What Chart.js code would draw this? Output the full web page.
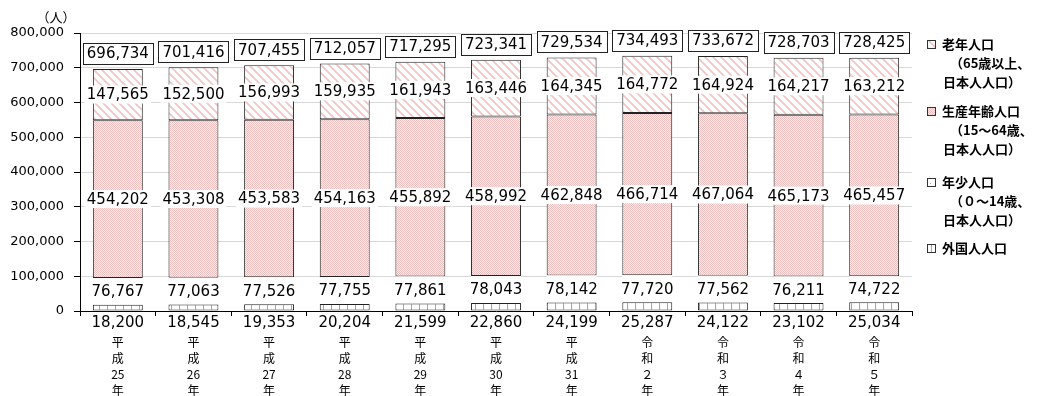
<!DOCTYPE html>
<html>
<head>
<meta charset="utf-8">
<script src="https://cdn.jsdelivr.net/npm/chart.js@4.4.1/dist/chart.umd.min.js"></script>
<style>
  html, body { margin: 0; padding: 0; background: #fff; }
  #wrap { position: relative; width: 1042px; height: 396px; }
</style>
</head>
<body>
<div id="wrap"><canvas id="popChart" width="1042" height="396"></canvas></div>
<script>
const eras = ["平成", "平成", "平成", "平成", "平成", "平成", "平成", "令和", "令和", "令和", "令和"];
const eraYears = ["25", "26", "27", "28", "29", "30", "31", "２", "３", "４", "５"];

// stacked from the bottom up
const foreign = [18200, 18545, 19353, 20204, 21599, 22860, 24199, 25287, 24122, 23102, 25034];
const young = [76767, 77063, 77526, 77755, 77861, 78043, 78142, 77720, 77562, 76211, 74722];
const working = [454202, 453308, 453583, 454163, 455892, 458992, 462848, 466714, 467064, 465173, 465457];
const elderly = [147565, 152500, 156993, 159935, 161943, 163446, 164345, 164772, 164924, 164217, 163212];

const yTicks = [0, 100000, 200000, 300000, 400000, 500000, 600000, 700000, 800000];

const legendItems = [
  ["老年人口", "（65歳以上、", "日本人人口）"],
  ["生産年齢人口", "（15～64歳、", "日本人人口）"],
  ["年少人口", "（０～14歳、", "日本人人口）"],
  ["外国人人口"],
];

const NUM_FONT = '"DejaVu Sans", Verdana, sans-serif';
const JP_FONT = '"Noto Sans CJK JP", sans-serif';

const fmt = (v) => v.toLocaleString("en-US");

// x labels: each character on its own line, year digits kept together
const labels = eras.map((e, i) => [e[0], e[1], eraYears[i], "年"]);

function makePattern(w, h, paint) {
  const c = document.createElement("canvas");
  c.width = w;
  c.height = h;
  const g = c.getContext("2d");
  paint(g);
  return g.createPattern(c, "repeat");
}

const hatchElderly = makePattern(8, 8, (g) => {
  g.fillStyle = "#fff";
  g.fillRect(0, 0, 8, 8);
  g.strokeStyle = "#f3c2c2";
  g.lineWidth = 1.6;
  g.beginPath();
  g.moveTo(-2, -2); g.lineTo(10, 10);
  g.moveTo(-6, 2); g.lineTo(2, 10);
  g.moveTo(6, -2); g.lineTo(10, 2);
  g.stroke();
});

const dotsWorking = makePattern(2, 2, (g) => {
  g.fillStyle = "#fcecec";
  g.fillRect(0, 0, 2, 2);
  g.fillStyle = "#eec0c0";
  g.fillRect(0, 0, 1, 1);
  g.fillRect(1, 1, 1, 1);
});

const stripesForeign = makePattern(8, 4, (g) => {
  g.fillStyle = "#fff";
  g.fillRect(0, 0, 8, 4);
  g.fillStyle = "#e58888";
  g.fillRect(3, 0, 1, 4);
});

const segLabels = {
  id: "segLabels",
  afterDatasetsDraw(chart) {
    const ctx = chart.ctx;
    const area = chart.chartArea;
    ctx.save();
    ctx.font = "15px " + NUM_FONT;
    ctx.textAlign = "center";
    ctx.textBaseline = "middle";

    chart.data.datasets.forEach((ds, i) => {
      chart.getDatasetMeta(i).data.forEach((bar, j) => {
        const txt = fmt(ds.data[j]);
        if (i === 0) {
          ctx.fillStyle = "#000";
          ctx.fillText(txt, bar.x, area.bottom + 12);
          return;
        }
        const y = (bar.y + bar.base) / 2;
        const w = ctx.measureText(txt).width + 4;
        ctx.fillStyle = "#fff";
        ctx.fillRect(bar.x - w / 2, y - 9, w, 18);
        ctx.fillStyle = "#000";
        ctx.fillText(txt, bar.x, y + 1);
      });
    });

    // totals in boxes above each bar
    const topMeta = chart.getDatasetMeta(chart.data.datasets.length - 1);
    topMeta.data.forEach((bar, j) => {
      const total = chart.data.datasets.reduce((s, ds) => s + ds.data[j], 0);
      const txt = fmt(total);
      const w = ctx.measureText(txt).width + 8;
      const h = 21;
      const cy = bar.y - 5 - h / 2;
      ctx.fillStyle = "#fff";
      ctx.fillRect(bar.x - w / 2, cy - h / 2, w, h);
      ctx.strokeStyle = "#222";
      ctx.lineWidth = 1;
      ctx.strokeRect(Math.round(bar.x - w / 2) + 0.5, Math.round(cy - h / 2) + 0.5, Math.round(w), h);
      ctx.fillStyle = "#000";
      ctx.fillText(txt, bar.x, cy + 1);
    });
    ctx.restore();
  },
  afterDraw(chart) {
    const ctx = chart.ctx;
    const area = chart.chartArea;
    ctx.save();

    // unit
    ctx.font = "13px " + JP_FONT;
    ctx.fillStyle = "#000";
    ctx.textAlign = "center";
    ctx.textBaseline = "middle";
    ctx.fillText("（人）", 56, 17);

    // legend
    const x0 = area.right + 15;
    const rowY = [44, 111, 182, 248];
    const swatch = [hatchElderly, dotsWorking, "#fff", stripesForeign];
    ctx.textAlign = "left";
    ctx.font = "bold 13px " + JP_FONT;
    legendItems.forEach((lines, k) => {
      const y = rowY[k];
      ctx.fillStyle = swatch[k];
      ctx.fillRect(x0, y - 4, 8, 8);
      ctx.strokeStyle = "#333";
      ctx.lineWidth = 1;
      ctx.strokeRect(x0 + 0.5, y - 4 + 0.5, 8, 8);
      if (k === 2) {
        ctx.fillStyle = "#e48c8c";
        ctx.fillRect(x0 + 3, y + 1, 1, 1);
      }
      ctx.fillStyle = "#000";
      ctx.fillText(lines[0], x0 + 15, y);
      if (lines[1]) ctx.fillText(lines[1], x0 + 23, y + 19);
      if (lines[2]) ctx.fillText(lines[2], x0 + 16, y + 38);
    });
    ctx.restore();
  },
};

const order = [foreign, young, working, elderly];
const names = ["外国人人口", "年少人口", "生産年齢人口", "老年人口"];
const fillFor = [stripesForeign, "#fff", dotsWorking, hatchElderly];

new Chart(document.getElementById("popChart"), {
  type: "bar",
  data: {
    labels: labels,
    datasets: order.map((d, i) => ({
      label: names[i],
      data: d,
      backgroundColor: fillFor[i],
      borderColor: "#222",
      borderWidth: i === 1 ? 0 : 1,
      borderSkipped: false,
      barPercentage: 0.66,
      categoryPercentage: 1,
    })),
  },
  options: {
    responsive: false,
    animation: false,
    layout: { padding: { top: 33, right: 130, left: 0, bottom: 0 } },
    plugins: { legend: { display: false }, tooltip: { enabled: false } },
    scales: {
      x: {
        stacked: true,
        afterFit: (s) => { s.height = 85; },
        grid: { drawOnChartArea: false, tickLength: 5, tickColor: "#000", offset: true },
        border: { color: "#000" },
        ticks: {
          color: "#000",
          padding: 18,
          maxRotation: 0,
          autoSkip: false,
          font: { family: JP_FONT, size: 12, lineHeight: 1.35 },
        },
      },
      y: {
        stacked: true,
        min: 0,
        max: 800000,
        afterFit: (s) => { s.width = 80; },
        afterBuildTicks: (s) => { s.ticks = yTicks.map((v) => ({ value: v })); },
        grid: { color: "#d9d9d9", tickLength: 6, tickColor: "#000" },
        border: { color: "#000" },
        ticks: {
          color: "#000",
          padding: 10,
          font: { family: NUM_FONT, size: 13 },
          callback: (v) => fmt(v),
        },
      },
    },
  },
  plugins: [segLabels],
});
</script>
</body>
</html>
